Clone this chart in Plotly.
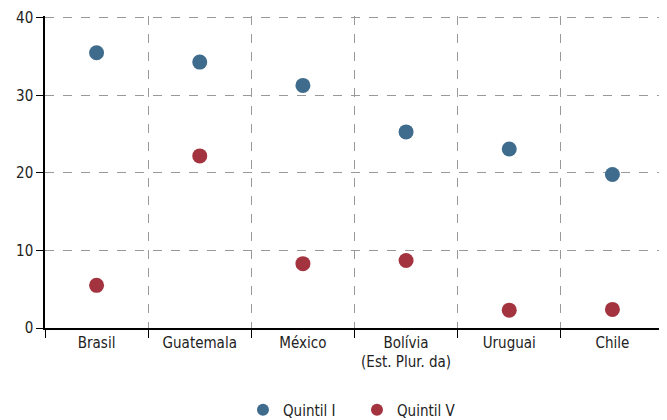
import plotly.graph_objects as go

countries = ["Brasil", "Guatemala", "México", "Bolívia<br>(Est. Plur. da)", "Uruguai", "Chile"]
quintil_i = [35.5, 34.3, 31.3, 25.3, 23.1, 19.8]
quintil_v = [5.5, 22.2, 8.3, 8.7, 2.3, 2.4]

FONT = "DejaVu Sans Condensed, Roboto, sans-serif"

fig = go.Figure()
fig.add_trace(go.Scatter(x=countries, y=quintil_i, mode="markers", name="Quintil I",
                         marker=dict(size=15, color="#3f6c8d")))
fig.add_trace(go.Scatter(x=countries, y=quintil_v, mode="markers", name="Quintil V",
                         marker=dict(size=15, color="#a3343f")))

# page body has an 8px default margin, so the figure is offset by (8, 8)
fig.update_layout(
    width=659, height=420,
    margin=dict(l=37, r=3, t=8, b=99),
    paper_bgcolor="white", plot_bgcolor="white",
    font=dict(family=FONT, size=15, color="#222222"),
    showlegend=True,
    legend=dict(orientation="h", x=0.504, xanchor="center", y=-0.259, yanchor="middle",
                font=dict(size=15), itemsizing="constant",
                entrywidth=69, entrywidthmode="pixels"),
    xaxis=dict(type="category", tickson="boundaries", showgrid=True, automargin=False,
               gridcolor="#999999", griddash="dash", gridwidth=1,
               showline=True, linecolor="#000000", linewidth=1.5,
               ticks="outside", ticklen=8, tickcolor="#000000",
               range=[-0.5, 5.5], zeroline=False),
    yaxis=dict(range=[0, 40.25], tickvals=[0, 10, 20, 30, 40], showgrid=True, automargin=False,
               ticklabeloverflow="allow",
               gridcolor="#999999", griddash="dash", gridwidth=1,
               showline=True, linecolor="#000000", linewidth=1.5,
               ticks="outside", ticklen=7, tickcolor="#000000", zeroline=False),
)
fig.add_shape(type="line", xref="paper", yref="paper", x0=1, x1=1, y0=0, y1=1,
              line=dict(color="#999999", width=1, dash="dash"))

fig.write_html("out.html")
